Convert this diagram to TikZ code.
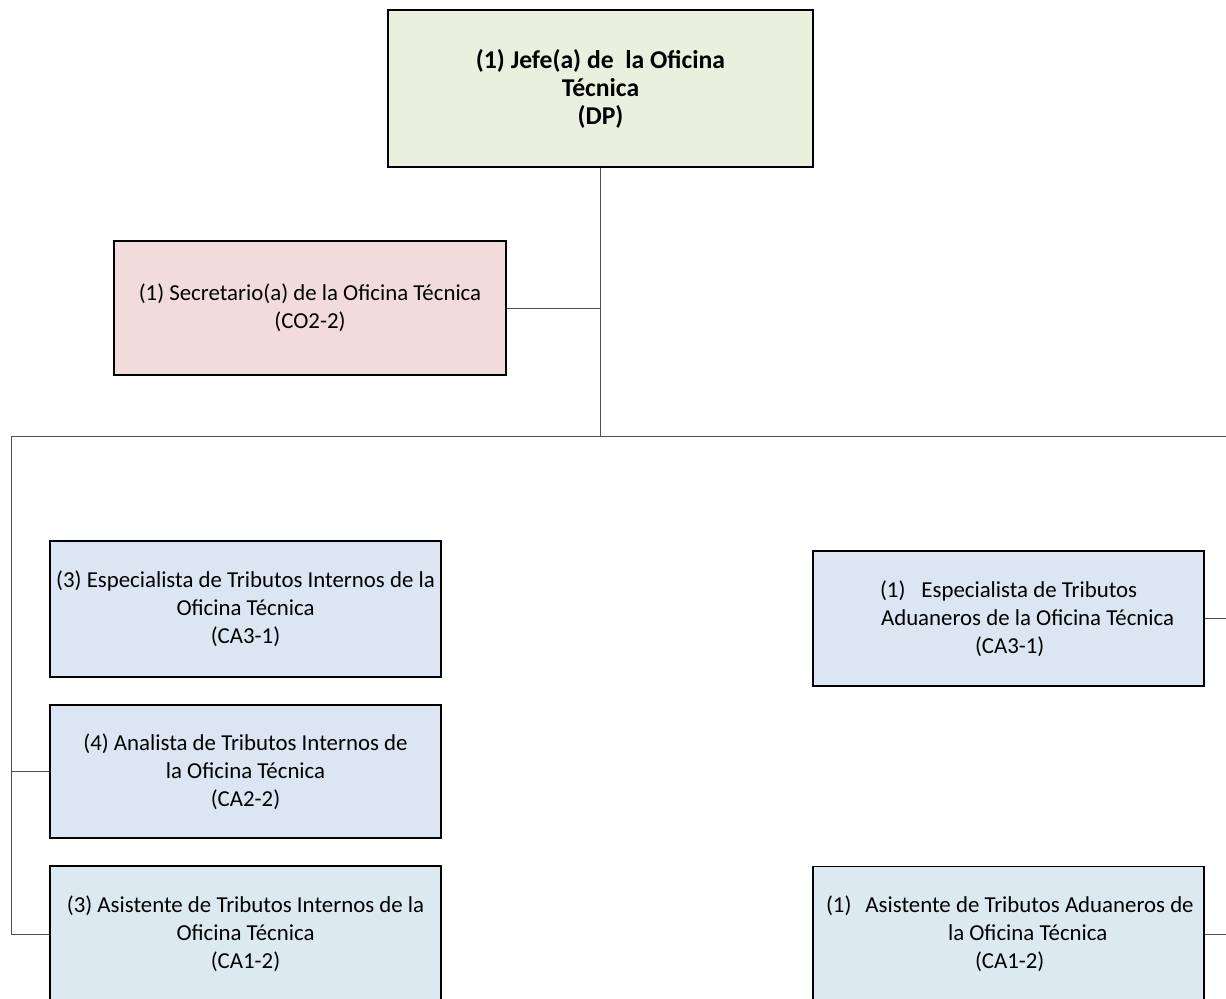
\documentclass[tikz,border=0pt]{standalone}
\usepackage{fontspec}
\setmainfont{Carlito}
\usetikzlibrary{positioning}
\definecolor{jefefill}{HTML}{EBF0DE}
\definecolor{secfill}{HTML}{F2DCDB}
\definecolor{puestofill}{HTML}{DCE6F2}
\definecolor{asisfill}{HTML}{DBEAF1}
\definecolor{linea}{HTML}{505050}
\newcommand{\renglon}[2]{\makebox[7.6cm][l]{\hspace*{#1}#2}}
\tikzset{
  cargo/.style={draw=black,line width=0.7pt,align=center,inner sep=2pt,
    font=\fontsize{13pt}{15.9pt}\selectfont},
  izq/.style={cargo,minimum width=7.82cm,minimum height=2.72cm},
  der/.style={cargo,minimum width=7.82cm,minimum height=2.7cm,align=left},
  enlace/.style={draw=linea,line width=0.55pt}
}
\begin{document}
\begin{tikzpicture}[x=0.02cm,y=-0.02cm]
\useasboundingbox (0,0) rectangle (1226,998);
\clip (0,0) rectangle (1226,998);
\node[cargo,fill=jefefill,minimum width=8.5cm,minimum height=3.14cm,font=\fontsize{14.6pt}{15.9pt}\selectfont\bfseries]
  (jefe) at (600.5,88.5) {(1) Jefe(a) de \ la Oficina\\Técnica\\(DP)};
\node[cargo,fill=secfill,minimum width=7.84cm,minimum height=2.68cm]
  (secre) at (310,308) {(1) Secretario(a) de la Oficina Técnica\\(CO2-2)};
\node[izq,fill=puestofill] (espint) at (245.5,609)
  {(3) Especialista de Tributos Internos de la\\Oficina Técnica\\(CA3-1)};
\node[izq,fill=puestofill,minimum height=2.66cm] (anaint) at (245.5,771.5)
  {(4) Analista de Tributos Internos de\\la Oficina Técnica\\(CA2-2)};
\node[izq,fill=asisfill] (asiint) at (245.5,934)
  {(3) Asistente de Tributos Internos de la\\Oficina Técnica\\(CA1-2)};
\node[der,fill=puestofill] (espadu) at (1008.5,618.5)
  {\renglon{1.23cm}{(1)\hspace{0.32cm}Especialista de Tributos}\\
   \renglon{1.25cm}{Aduaneros de la Oficina Técnica}\\
   \renglon{3.13cm}{(CA3-1)}};
\node[der,fill=asisfill] (asiadu) at (1008.5,934)
  {\renglon{0.15cm}{(1)\hspace{0.28cm}Asistente de Tributos Aduaneros de}\\
   \renglon{2.59cm}{la Oficina Técnica}\\
   \renglon{3.13cm}{(CA1-2)}};
% lineas de mando
\coordinate (busizq) at (11,436);
\coordinate (busder) at (1226,436);
\draw[enlace] (jefe.south) -- (jefe.south |- busizq);
\draw[enlace] (secre.east) -- (secre.east -| jefe.south);
\draw[enlace] (busizq) -- (busder);
\draw[enlace] (busizq) -- (busizq |- asiint.west) -- (asiint.west);
\draw[enlace] (anaint.west -| busizq) -- (anaint.west);
\draw[enlace] (espadu.east) -- (espadu.east -| busder);
\draw[enlace] (asiadu.east) -- (asiadu.east -| busder);
\end{tikzpicture}
\end{document}
